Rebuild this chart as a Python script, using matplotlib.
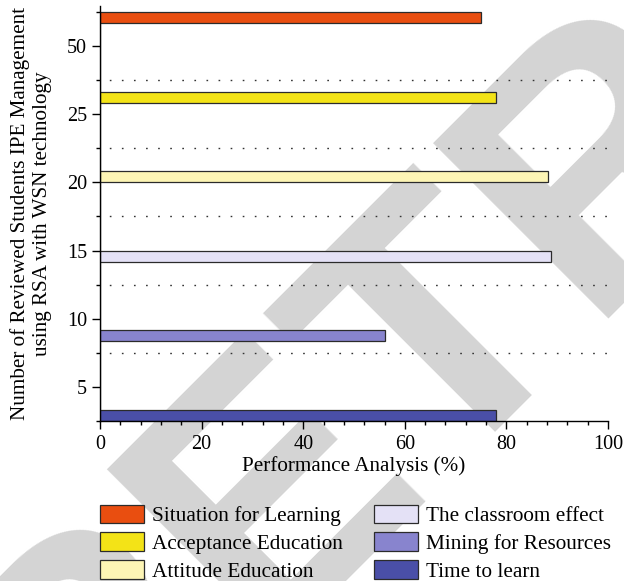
import matplotlib.pyplot as plt
import numpy as np

# groups on the y axis (top to bottom) and one series per group
groups = ['50', '25', '20', '15', '10', '5']
series_names = ['Situation for Learning', 'Acceptance Education', 'Attitude Education',
                'The classroom effect', 'Mining for Resources', 'Time to learn']
situation = [75, 0, 0, 0, 0, 0]
acceptance = [0, 78, 0, 0, 0, 0]
attitude = [0, 0, 88.2, 0, 0, 0]
classroom = [0, 0, 0, 88.7, 0, 0]
mining = [0, 0, 0, 0, 56, 0]
time_learn = [0, 0, 0, 0, 0, 78]
series_values = [situation, acceptance, attitude, classroom, mining, time_learn]
colors = ['#e94e10', '#f3e317', '#fdf5b5', '#e4e1f6', '#8884ce', '#4a4fa8']

plt.rcParams['font.family'] = 'Liberation Serif'

fig = plt.figure(figsize=(6.24, 5.81), dpi=100)

# big grey stamp behind the chart
fig.text(0.121, -0.426, 'RETRACTED', rotation=45, rotation_mode='anchor',
         ha='left', va='baseline', fontsize=260, fontweight='bold',
         family='Liberation Sans', color='#d4d4d4', zorder=-1)

ax = fig.add_axes([0.1603, 0.2754, 0.8141, 0.7143])
ax.patch.set_visible(False)

y = np.arange(len(groups))
h = 1 / len(series_names)
handles = []
for j, (vals, name, c) in enumerate(zip(series_values, series_names, colors)):
    bars = ax.barh(y + (j - 2.5) * h, vals, height=h, color=c,
                   edgecolor='#2b2b2b', linewidth=0.9, label=name)
    handles.append(bars)

# dotted separators between groups
for b in np.arange(0.5, len(groups) - 1, 1):
    ax.axhline(b, color='#333333', linewidth=1.0, linestyle=(2, (1.2, 7.5)), zorder=0.5)

ax.set_xlim(0, 100)
ax.set_ylim(len(groups) - 0.5, -0.5 - 6 / 68.2)
ax.set_yticks(y, groups)
ax.set_yticks(np.arange(-0.5, len(groups), 1), minor=True)
ax.set_xticks(np.arange(0, 101, 20))
ax.set_xticks(np.arange(0, 101, 4), minor=True)

ax.spines['top'].set_visible(False)
ax.spines['right'].set_visible(False)
for s in ['left', 'bottom']:
    ax.spines[s].set_linewidth(1.0)

ax.tick_params(axis='both', which='major', direction='out', length=5.8, width=1.0,
               labelsize=14.5)
ax.tick_params(axis='y', which='major', pad=3.5)
ax.tick_params(axis='x', which='major', pad=4.5)
ax.tick_params(axis='both', which='minor', direction='out', length=2.9, width=1.0)

ax.set_xlabel('Performance Analysis (%)', fontsize=15.2, labelpad=1)
ax.set_ylabel('Number of Reviewed Students IPE Management\nusing RSA with WSN technology',
              fontsize=15.2, linespacing=1.2)
ax.yaxis.set_label_coords(-0.095, 0.5)

# legend split into two fixed columns
legend_style = dict(loc='upper left', frameon=False, borderpad=0, borderaxespad=0,
                    prop={'family': 'Liberation Serif', 'size': 15.3}, handlelength=2.1,
                    handleheight=0.95, handletextpad=0.36, labelspacing=0.3)
fig.legend(handles[:3], series_names[:3], bbox_to_anchor=(99.5 / 624, 1 - 504.5 / 581),
           **legend_style)
fig.legend(handles[3:], series_names[3:], bbox_to_anchor=(373.7 / 624, 1 - 504.5 / 581),
           **legend_style)

fig.savefig('out.png', dpi=100)
